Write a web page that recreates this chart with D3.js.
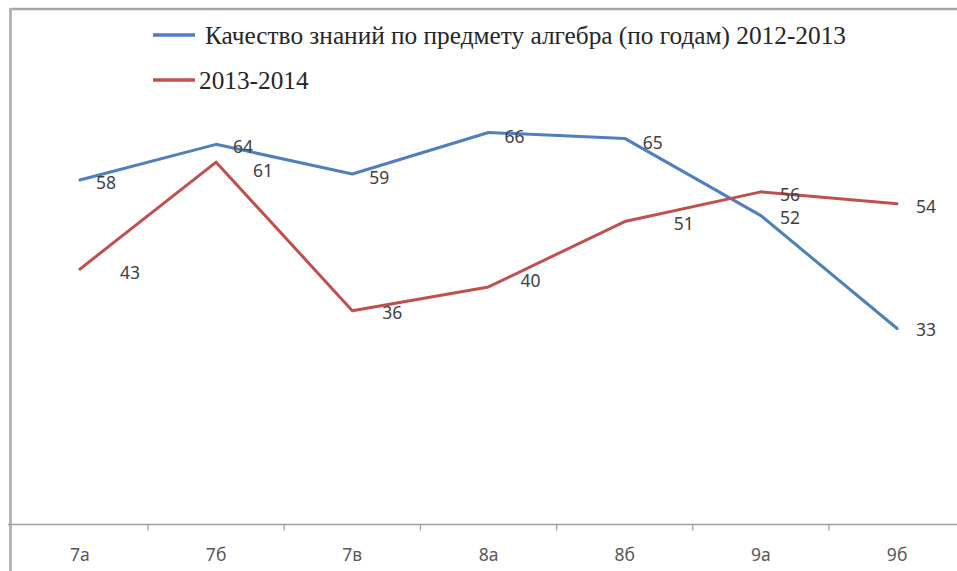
<!DOCTYPE html>
<html>
<head>
<meta charset="utf-8">
<script src="https://cdn.jsdelivr.net/npm/d3@7"></script>
<style>
  html, body { margin: 0; padding: 0; background: #fff; }
  svg { display: block; }
</style>
</head>
<body>
<svg id="chart" width="957" height="571"></svg>
<script>
// ---- data ----
const categories = ["7а", "7б", "7в", "8а", "8б", "9а", "9б"];
const series1Name = "Качество знаний по предмету алгебра (по годам) 2012-2013";
const series1 = [58, 64, 59, 66, 65, 52, 33];
const series2Name = "2013-2014";
const series2 = [43, 61, 36, 40, 51, 56, 54];
const yDomain = [0, 70];

// label offsets (style: manual data-label placement as in original)
const labelDx1 = [16, 17, 17, 16, 18, 19, 19];
const labelDy1 = [3, 3, 4, 4, 4, 2, 1];
const labelDx2 = [40, 37, 30, 32, 49, 19, 19];
const labelDy2 = [4, 9, 2, -6, 2, 3, 3];

const svg = d3.select("#chart");
const W = 957, H = 571;
svg.append("rect").attr("width", W).attr("height", H).attr("fill", "#fff");

const left = 11.8, step = 136.2;
const x = d3.scaleBand().domain(categories).range([left, left + step * categories.length]).padding(0);
const y = d3.scaleLinear().domain(yDomain).range([524.5, 108.7]);

// chart border (top and left visible)
svg.append("line").attr("x1", 10.5).attr("x2", W).attr("y1", 9).attr("y2", 9)
  .attr("stroke", "#a6a6a6").attr("stroke-width", 2.5);
svg.append("line").attr("x1", 10.5).attr("x2", 10.5).attr("y1", 8).attr("y2", H)
  .attr("stroke", "#b5b5b5").attr("stroke-width", 3);

// x axis
const axisY = y(0);
svg.append("line").attr("x1", 8).attr("x2", W).attr("y1", axisY).attr("y2", axisY)
  .attr("stroke", "#a0a0a0").attr("stroke-width", 1.3);
const boundaries = categories.slice(1).map(c => x(c));
svg.selectAll("line.tick").data(boundaries).enter().append("line")
  .attr("class", "tick")
  .attr("x1", d => d).attr("x2", d => d)
  .attr("y1", axisY).attr("y2", axisY + 6)
  .attr("stroke", "#a0a0a0").attr("stroke-width", 1.3);

const xAxis = d3.axisBottom(x).tickSize(0).tickPadding(0);
const gx = svg.append("g").attr("transform", `translate(0,${axisY})`).call(xAxis);
gx.select(".domain").remove();
gx.selectAll("text")
  .attr("dy", null).attr("y", 36)
  .attr("font-family", "'Noto Sans', 'Liberation Sans', sans-serif")
  .attr("font-size", 17.5).attr("fill", "#595959");

// lines
const cx = c => x(c) + x.bandwidth() / 2;
const line = d3.line().x((d, i) => cx(categories[i])).y(d => y(d));
const colors = ["#4f7fbc", "#c0504d"];
[series1, series2].forEach((s, k) => {
  svg.append("path").datum(s).attr("d", line)
    .attr("fill", "none").attr("stroke", colors[k]).attr("stroke-width", 3)
    .attr("stroke-linejoin", "round").attr("stroke-linecap", "round");
});

// data labels
function labels(s, dx, dy) {
  svg.append("g").selectAll("text").data(s).enter().append("text")
    .attr("x", (d, i) => cx(categories[i]) + dx[i])
    .attr("y", (d, i) => y(d) + dy[i])
    .attr("dy", "0.35em")
    .attr("font-family", "'Noto Sans', 'Liberation Sans', sans-serif")
    .attr("font-size", 17.5).attr("fill", "#404040")
    .text(d => d);
}
labels(series1, labelDx1, labelDy1);
labels(series2, labelDx2, labelDy2);

// legend
const legend = [
  { name: series1Name, color: colors[0], y: 35, tx: 205 },
  { name: series2Name, color: colors[1], y: 80, tx: 199 }
];
legend.forEach(l => {
  svg.append("line").attr("x1", 153).attr("x2", 195).attr("y1", l.y).attr("y2", l.y)
    .attr("stroke", l.color).attr("stroke-width", 3.5);
  svg.append("text").attr("x", l.tx).attr("y", l.y + 9)
    .attr("font-family", "'Liberation Serif', 'Times New Roman', serif")
    .attr("font-size", 25.3).attr("fill", "#262626")
    .text(l.name);
});
</script>
</body>
</html>
